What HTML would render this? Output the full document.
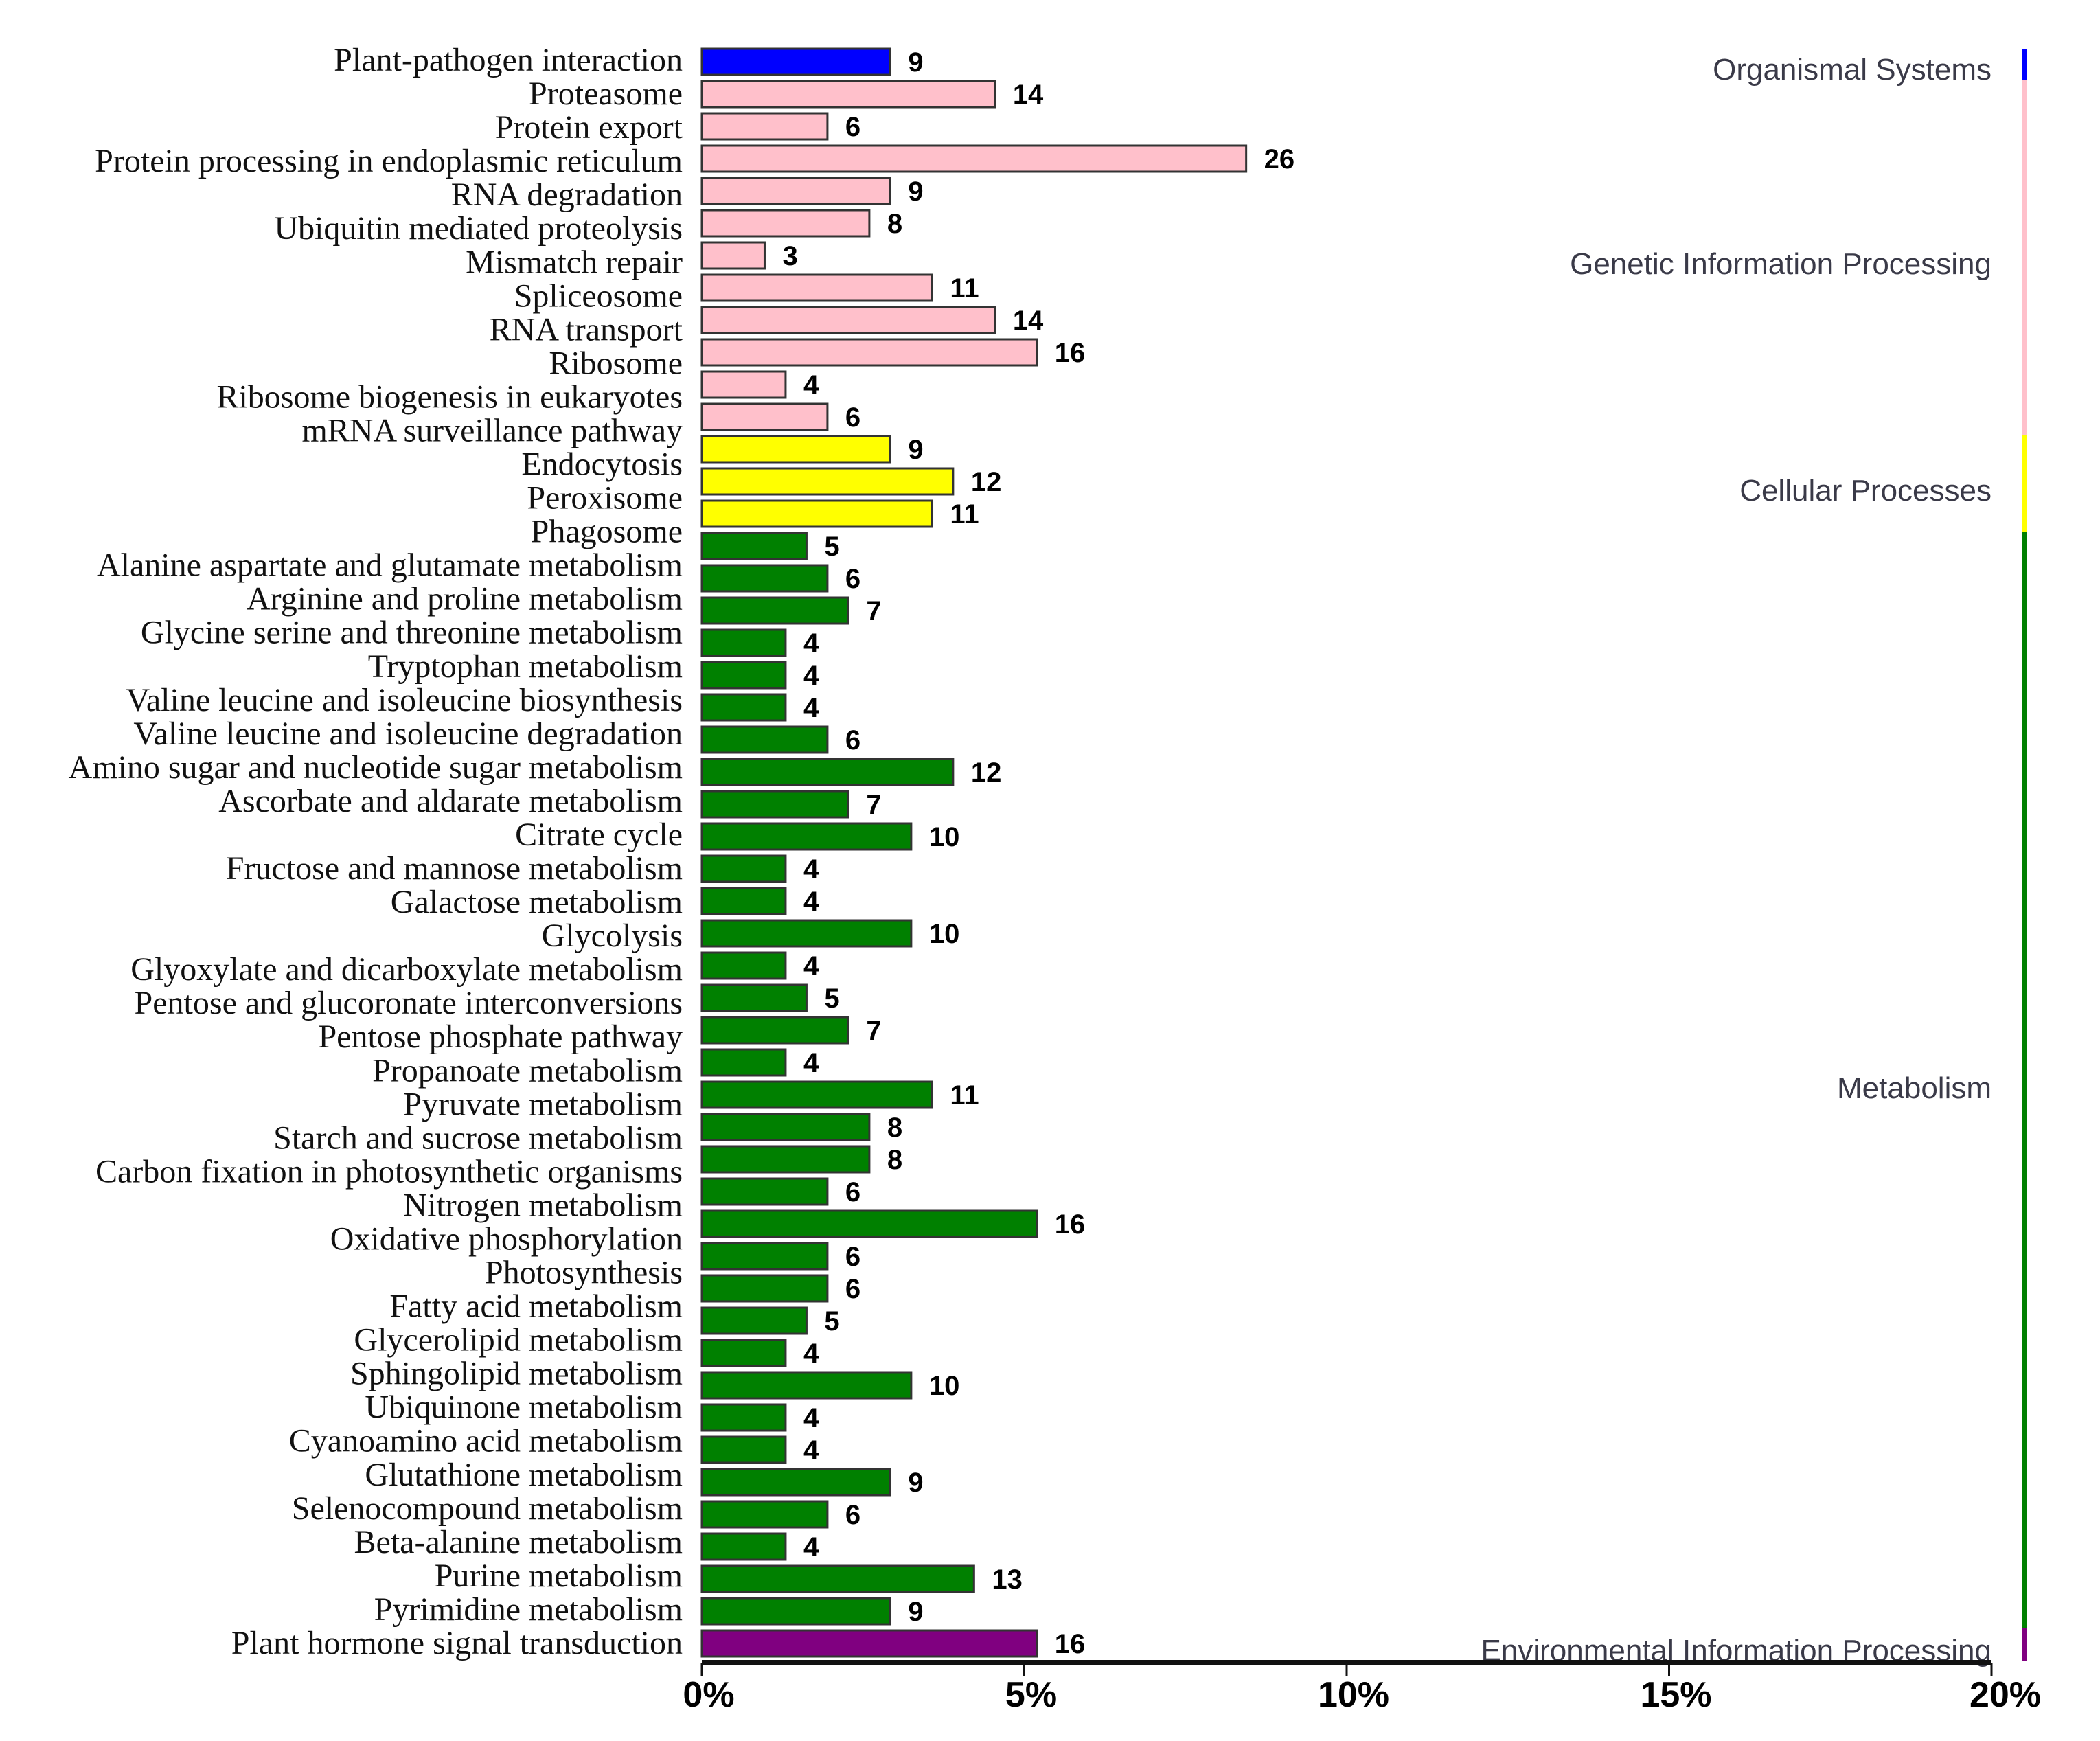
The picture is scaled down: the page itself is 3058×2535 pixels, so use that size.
<!DOCTYPE html>
<html><head><meta charset="utf-8"><style>
html,body{margin:0;padding:0;background:#fff;}
svg{display:block;}
</style></head><body>
<svg id="chart" width="3058" height="2535" xmlns="http://www.w3.org/2000/svg"></svg>
<script>
const labels = ["Plant-pathogen interaction","Proteasome","Protein export","Protein processing in endoplasmic reticulum","RNA degradation","Ubiquitin mediated proteolysis","Mismatch repair","Spliceosome","RNA transport","Ribosome","Ribosome biogenesis in eukaryotes","mRNA surveillance pathway","Endocytosis","Peroxisome","Phagosome","Alanine aspartate and glutamate metabolism","Arginine and proline metabolism","Glycine serine and threonine metabolism","Tryptophan metabolism","Valine leucine and isoleucine biosynthesis","Valine leucine and isoleucine degradation","Amino sugar and nucleotide sugar metabolism","Ascorbate and aldarate metabolism","Citrate cycle","Fructose and mannose metabolism","Galactose metabolism","Glycolysis","Glyoxylate and dicarboxylate metabolism","Pentose and glucoronate interconversions","Pentose phosphate pathway","Propanoate metabolism","Pyruvate metabolism","Starch and sucrose metabolism","Carbon fixation in photosynthetic organisms","Nitrogen metabolism","Oxidative phosphorylation","Photosynthesis","Fatty acid metabolism","Glycerolipid metabolism","Sphingolipid metabolism","Ubiquinone metabolism","Cyanoamino acid metabolism","Glutathione metabolism","Selenocompound metabolism","Beta-alanine metabolism","Purine metabolism","Pyrimidine metabolism","Plant hormone signal transduction"];
const values = [9,14,6,26,9,8,3,11,14,16,4,6,9,12,11,5,6,7,4,4,4,6,12,7,10,4,4,10,4,5,7,4,11,8,8,6,16,6,6,5,4,10,4,4,9,6,4,13,9,16];
const groups = ["O","G","G","G","G","G","G","G","G","G","G","G","C","C","C","M","M","M","M","M","M","M","M","M","M","M","M","M","M","M","M","M","M","M","M","M","M","M","M","M","M","M","M","M","M","M","M","M","M","E"];
const totalGenes = 308;
const ticks = [0,5,10,15,20];
const catNames = ["Organismal Systems","Genetic Information Processing","Cellular Processes","Metabolism","Environmental Information Processing"];
const catKeys = ["O","G","C","M","E"];
const catColors = {O:"#0000ff",G:"#ffc0cb",C:"#ffff00",M:"#008000",E:"#800080"};

const NS="http://www.w3.org/2000/svg";
const svg=document.getElementById('chart');
function mk(t,a){const e=document.createElementNS(NS,t);for(const k in a)e.setAttribute(k,a[k]);svg.appendChild(e);return e;}
const x0=1022,x1=2900,pMax=20;
const xS=p=>x0+(p/pMax)*(x1-x0);
const barTop=90,barBot=2393;
const yB=i=>barTop+i*(barBot-barTop)/(values.length-1);
const yL=i=>88+i*(2393-88)/(labels.length-1);
const bh=38;

labels.forEach((l,i)=>{
  const t=mk('text',{x:994,y:yL(i)+15,'text-anchor':'end','font-family':'Liberation Serif, serif','font-size':48,fill:'#111'});
  t.textContent=l;
  
  
});
values.forEach((v,i)=>{
  const xe=xS(v/totalGenes*100);
  const r=mk('rect',{x:x0,y:yB(i)-bh/2,width:xe-x0,height:bh,fill:catColors[groups[i]],stroke:'#333','stroke-width':3});
  
  
  const t=mk('text',{x:xe+26,y:yB(i)+14,'font-family':'Liberation Sans, sans-serif','font-weight':'bold','font-size':40,fill:'#000'});
  t.textContent=v;
  
  
});
const segY={O:[72,117],G:[117,634],C:[634,774],M:[774,2370],E:[2370,2418]};
const catY={O:101,G:384,C:714,M:1584,E:2403};
catKeys.forEach((k,i)=>{
  const r=mk('rect',{x:2945,y:segY[k][0],width:6,height:segY[k][1]-segY[k][0],fill:catColors[k]});
  
  
  const t=mk('text',{x:2900,y:catY[k]+15,'text-anchor':'end','font-family':'Liberation Sans, sans-serif','font-size':44,fill:'#3a3a48'});
  t.textContent=catNames[i];
  
  
});
const ax=mk('line',{x1:x0,y1:2421,x2:x1,y2:2421,stroke:'#111','stroke-width':8});


ticks.forEach(p=>{
  const tk=mk('line',{x1:xS(p),y1:2421,x2:xS(p),y2:2440,stroke:'#111','stroke-width':3});
  
  
  const t=mk('text',{x:xS(p)+(p===20?20:10),y:2485,'text-anchor':'middle','font-family':'Liberation Sans, sans-serif','font-weight':'bold','font-size':52,fill:'#000'});
  t.textContent=p+'%';
  
  
});
</script>
</body></html>
